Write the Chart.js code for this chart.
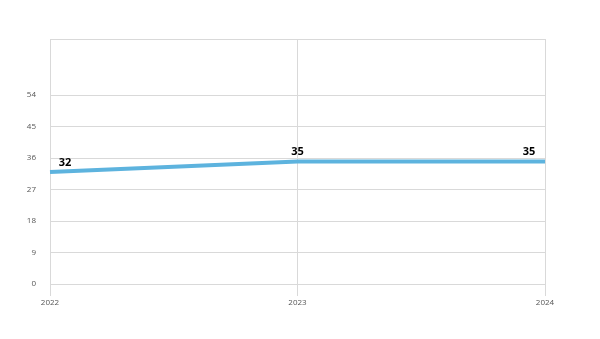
<!DOCTYPE html>
<html>
<head>
<meta charset="utf-8">
<script src="https://cdn.jsdelivr.net/npm/chart.js@4/dist/chart.umd.min.js"></script>
<style>
  html, body { margin: 0; padding: 0; background: #fff; }
  #wrap { width: 600px; height: 339px; }
</style>
</head>
<body>
<div id="wrap"><canvas id="myChart"></canvas></div>
<script>
const anni = ['2022', '2023', '2024'];
const valori = [32, 35, 35];
const tickY = [0, 9, 18, 27, 36, 45, 54];

// cornice attorno all'area del grafico
const cornice = {
    id: 'cornice',
    beforeDatasetsDraw(chart) {
        const a = chart.chartArea;
        const c = chart.ctx;
        c.save();
        c.strokeStyle = '#d9d9d9';
        c.lineWidth = 1;
        c.strokeRect(a.left + 0.5, a.top + 0.5, a.right - a.left, a.bottom - a.top);
        c.restore();
    }
};

// etichette sopra i punti
const etichette = {
    id: 'etichette',
    afterDatasetsDraw(chart) {
        const c = chart.ctx;
        const meta = chart.getDatasetMeta(0);
        c.save();
        c.font = 'bold 11px "Open Sans", sans-serif';
        c.fillStyle = '#000';
        c.textAlign = 'center';
        c.textBaseline = 'bottom';
        meta.data.forEach(function(p, i) {
            let dx = 0;
            if (i === 0) dx = 15;
            if (i === meta.data.length - 1) dx = -16;
            c.fillText(String(valori[i]), p.x + dx, p.y - 4);
        });
        c.restore();
    }
};

new Chart(document.getElementById('myChart'), {
    type: 'line',
    data: {
        labels: anni,
        datasets: [{
            data: valori,
            borderColor: '#5db3de',
            borderWidth: 4,
            pointRadius: 0,
            tension: 0,
            fill: false
        }]
    },
    options: {
        responsive: true,
        maintainAspectRatio: false,
        animation: false,
        layout: { padding: { top: 39, right: 55, bottom: 14, left: 0 } },
        plugins: {
            legend: { display: false },
            tooltip: { enabled: false }
        },
        scales: {
            x: {
                offset: false,
                grid: { color: '#d9d9d9', tickLength: 12, drawTicks: true },
                border: { display: false },
                ticks: { color: '#555', font: { size: 8, family: '"Open Sans", sans-serif' }, padding: 2, maxRotation: 0 },
                afterFit(scale) { scale.height = 41; }
            },
            y: {
                min: 0,
                max: 70,
                grid: { color: '#d9d9d9', drawTicks: false },
                border: { display: false },
                ticks: { color: '#555', font: { size: 8, family: '"Open Sans", sans-serif' }, padding: 14 },
                afterBuildTicks(scale) { scale.ticks = tickY.map(v => ({ value: v })); },
                afterFit(scale) { scale.width = 50; }
            }
        }
    },
    plugins: [cornice, etichette]
});
</script>
</body>
</html>
